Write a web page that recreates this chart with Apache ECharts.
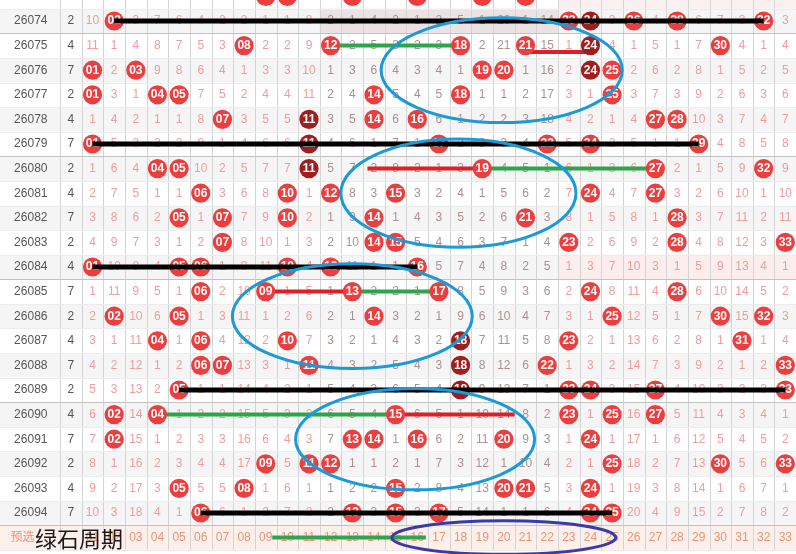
<!DOCTYPE html>
<html>
<head>
<meta charset="utf-8">
<script src="https://cdn.jsdelivr.net/npm/echarts@6/dist/echarts.min.js"></script>
<style>
html,body{margin:0;padding:0;background:#fff;}
#main{width:796px;height:554px;}
</style>
</head>
<body>
<div id="main"></div>
<script>
// 期号
var issues = ['26073','26074','26075','26076','26077','26078','26079','26080','26081','26082','26083',
	'26084','26085','26086','26087','26088','26089','26090','26091','26092','26093','26094'];
// 第二列
var tailNums = [7,2,4,7,2,4,7,2,4,7,2,4,7,2,4,7,2,4,7,2,4,7];
// 遗漏值, 0 = 开出
var omit = [
	[9,3,2,6,5,3,1,1,0,0,7,1,0,3,1,0,1,4,0,19,0,13,6,2,2,5,3,3,5,6,2,4,2],
	[10,0,3,7,6,4,2,2,1,1,8,2,1,4,2,1,2,5,1,20,1,14,0,0,3,0,4,0,6,7,3,0,3],
	[11,1,4,8,7,5,3,0,2,2,9,0,2,5,3,2,3,0,2,21,0,15,1,0,4,1,5,1,7,0,4,1,4],
	[0,2,0,9,8,6,4,1,3,3,10,1,3,6,4,3,4,1,0,0,1,16,2,0,0,2,6,2,8,1,5,2,5],
	[0,3,1,0,0,7,5,2,4,4,11,2,4,0,5,4,5,0,1,1,2,17,3,1,0,3,7,3,9,2,6,3,6],
	[1,4,2,1,1,8,0,3,5,5,0,3,5,0,6,0,6,1,2,2,3,18,4,2,1,4,0,0,10,3,7,4,7],
	[0,5,3,2,2,9,1,4,6,6,0,4,6,1,7,1,0,2,3,3,4,0,5,0,2,5,1,1,0,4,8,5,8],
	[1,6,4,0,0,10,2,5,7,7,0,5,7,2,8,2,1,3,0,4,5,1,6,1,3,6,0,2,1,5,9,0,9],
	[2,7,5,1,1,0,3,6,8,0,1,0,8,3,0,3,2,4,1,5,6,2,7,0,4,7,0,3,2,6,10,1,10],
	[3,8,6,2,0,1,0,7,9,0,2,1,9,0,1,4,3,5,2,6,0,3,8,1,5,8,1,0,3,7,11,2,11],
	[4,9,7,3,1,2,0,8,10,1,3,2,10,0,0,5,4,6,3,7,1,4,0,2,6,9,2,0,4,8,12,3,0],
	[0,10,8,4,0,0,1,9,11,0,4,0,11,1,1,0,5,7,4,8,2,5,1,3,7,10,3,1,5,9,13,4,1],
	[1,11,9,5,1,0,2,10,0,1,5,1,0,2,2,1,0,8,5,9,3,6,2,0,8,11,4,0,6,10,14,5,2],
	[2,0,10,6,0,1,3,11,1,2,6,2,1,0,3,2,1,9,6,10,4,7,3,1,0,12,5,1,7,0,15,0,3],
	[3,1,11,0,1,0,4,12,2,0,7,3,2,1,4,3,2,0,7,11,5,8,0,2,1,13,6,2,8,1,0,1,4],
	[4,2,12,1,2,0,0,13,3,1,0,4,3,2,5,4,3,0,8,12,6,0,1,3,2,14,7,3,9,2,1,2,0],
	[5,3,13,2,0,1,1,14,4,2,1,5,4,3,6,5,4,0,9,13,7,1,0,0,3,15,0,4,10,3,2,3,0],
	[6,0,14,0,1,2,2,15,5,3,2,6,5,4,0,6,5,1,10,14,8,2,0,1,0,16,0,5,11,4,3,4,1],
	[7,0,15,1,2,3,3,16,6,4,3,7,0,0,1,0,6,2,11,0,9,3,1,0,1,17,1,6,12,5,4,5,2],
	[8,1,16,2,3,4,4,17,0,5,0,0,1,1,2,1,7,3,12,1,10,4,2,1,0,18,2,7,13,0,5,6,0],
	[9,2,17,3,0,5,5,0,1,6,1,1,2,2,0,2,8,4,13,0,0,5,3,0,1,19,3,8,14,1,6,7,1],
	[10,3,18,4,1,0,6,1,2,7,2,2,0,3,0,3,0,5,14,1,1,6,4,0,0,20,4,9,15,2,7,8,2]
];
// 深色号码 [期号, 号码]
var darkHits = [['26074',24],['26075',24],['26076',24],['26078',11],['26079',11],['26080',11],
	['26087',18],['26088',18],['26089',18]];
// 预选行
var preNums = ['01','02','03','04','05','06','07','08','09','10','11','12','13','14','15','16','17',
	'18','19','20','21','22','23','24','25','26','27','28','29','30','31','32','33'];

// 标注线 [期号, 起号, 止号]
var blackLines = [['26074',2,32],['26079',1,29],['26084',1,16],['26089',5,33],['26094',6,25]];
var greenLines = [['26075',12,18],['26080',19,27],['26085',13,17],['26090',4,15],['预选',9.3,16.4]];
var redLines = [['26075',21,24],['26080',13.7,19],['26085',9,13],['26090',15,20.5]];
// 圈 [中心号, 中心期号, 横半径, 纵半径]
var blueRings = [[19.9,'26076',5.57,2.13],[17.9,'26081',5.43,2.2],[13.0,'26086',5.54,2.13],[15.9,'26091',5.52,2.06]];
var purpleRings = [[20.0,'预选',5.17,0.68]];

var X_MIN = -3.273, X_MAX = 33.494, Y_MIN = 0.146, Y_MAX = 22.667;
var ISSUE_X = -1.85, PRE_ROW = issues.length;

function rowOf(name) {
	return name === '预选' ? PRE_ROW : issues.indexOf(name);
}
function isDark(r, n) {
	for (var i = 0; i < darkHits.length; i++) {
		if (rowOf(darkHits[i][0]) === r && darkHits[i][1] === n) return true;
	}
	return false;
}

var omitData = [], ballData = [], issueData = [], bgData = [];
omit.forEach(function(vals, r) {
	vals.forEach(function(v, c) {
		if (v === 0) ballData.push([c + 1, r, c + 1, isDark(r, c + 1) ? 1 : 0]);
		else omitData.push([c + 1, r, v]);
	});
	issueData.push([ISSUE_X, r, issues[r], '#555']);
	issueData.push([0, r, String(tailNums[r]), '#555']);
	bgData.push([X_MIN, X_MAX, r, r % 2 === 1 ? '#f5f5f5' : '#ffffff']);
});
bgData.push([X_MIN, X_MAX, PRE_ROW, '#fdf0ea']);
bgData.push([11.5, 22.5, rowOf('26074'), '#ebe3e3']);
bgData.push([22.5, X_MAX, rowOf('26084'), '#fdeeee']);
bgData.push([22.5, X_MAX, rowOf('26073'), '#fbf0f0']);
preNums.forEach(function(s, i) {
	issueData.push([i + 1, PRE_ROW, s, '#e99478']);
});
issueData.push([-2.23, PRE_ROW, '预选', '#e99478']);

var vLines = [];
for (var k = -0.5; k <= 32.5; k += 1) vLines.push([k, 0]);
var hLines = [];
for (var r = 0; r <= PRE_ROW; r++) {
	hLines.push([r + 0.5, (r % 5 === 1) ? 1 : 0]);
}

var fontNum = '12px Arial, "Liberation Sans", sans-serif';

function textEl(p, txt, color, font) {
	return {
		type: 'text',
		style: {
			x: p[0], y: p[1], text: txt, fill: color, font: font,
			align: 'center', verticalAlign: 'middle',
			textAlign: 'center', textVerticalAlign: 'middle'
		}
	};
}

var series = [];
// 背景
series.push({
	type: 'custom', z: 1, silent: true, data: bgData,
	renderItem: function(params, api) {
		var d = bgData[params.dataIndex];
		var a = api.coord([d[0], d[2] - 0.5]), b = api.coord([d[1], d[2] + 0.5]);
		return {type: 'rect', shape: {x: a[0], y: a[1], width: b[0] - a[0], height: b[1] - a[1]}, style: {fill: d[3]}};
	}
});
// 网格线
series.push({
	type: 'custom', z: 2, silent: true, data: vLines,
	renderItem: function(params, api) {
		var a = api.coord([api.value(0), Y_MIN]), b = api.coord([api.value(0), PRE_ROW + 0.5]);
		var x = Math.round(a[0]) + 0.5;
		return {type: 'line', shape: {x1: x, y1: a[1], x2: x, y2: b[1]}, style: {stroke: '#d4d4d4', lineWidth: 1}};
	}
});
series.push({
	type: 'custom', z: 2, silent: true, data: hLines,
	renderItem: function(params, api) {
		var a = api.coord([X_MIN, api.value(0)]), b = api.coord([X_MAX, api.value(0)]);
		var y = Math.round(a[1]) + 0.5;
		var strong = api.value(1) === 1;
		return {type: 'line', shape: {x1: a[0], y1: y, x2: b[0], y2: y},
			style: {stroke: strong ? '#c2c2c2' : '#ececec', lineWidth: 1}};
	}
});
// 遗漏值
series.push({
	type: 'custom', z: 3, silent: true, data: omitData,
	renderItem: function(params, api) {
		var c = api.value(0);
		var p = api.coord([c, api.value(1)]);
		var color = (c >= 12 && c <= 22) ? '#ad9090' : '#f09c9c';
		return textEl(p, String(api.value(2)), color, fontNum);
	}
});
// 期号 / 预选
series.push({
	type: 'custom', z: 3, silent: true, data: issueData,
	renderItem: function(params, api) {
		var d = issueData[params.dataIndex];
		var p = api.coord([d[0], d[1]]);
		return textEl(p, d[2], d[3], '12px Arial, "Liberation Sans", "Noto Sans CJK SC", sans-serif');
	}
});
// 彩色线
function addLines(list, color, z, width) {
	list.forEach(function(l) {
		var r = rowOf(l[0]);
		if (l[0] === '26075' && color === '#dd1f27') r += 0.26;
		series.push({
			type: 'line', z: z, silent: true, symbol: 'none', animation: false,
			data: [[l[1], r], [l[2], r]],
			lineStyle: {color: color, width: width, cap: 'butt'}
		});
	});
}
addLines(greenLines, '#2ba64a', 4, 4);
addLines(redLines, '#dd1f27', 4, 4);
// 开奖号码
series.push({
	type: 'custom', z: 5, silent: true, data: ballData,
	renderItem: function(params, api) {
		var p = api.coord([api.value(0), api.value(1)]);
		var n = api.value(2);
		var txt = n < 10 ? '0' + n : String(n);
		return {
			type: 'group',
			children: [
				{type: 'circle', shape: {cx: p[0], cy: p[1], r: 9.6}, style: {fill: api.value(3) ? '#a11e1e' : '#ec3e3e'}},
				textEl(p, txt, '#ffffff', 'bold 12px Arial, "Liberation Sans", sans-serif')
			]
		};
	}
});
addLines(blackLines, '#000000', 6, 5);
// 圈
function addRings(list, color) {
	var data = list.map(function(e) { return [e[0], rowOf(e[1]), e[2], e[3]]; });
	series.push({
		type: 'custom', z: 7, silent: true, data: data,
		renderItem: function(params, api) {
			var c = api.coord([api.value(0), api.value(1)]);
			var s = api.size([api.value(2), api.value(3)]);
			return {type: 'ellipse', shape: {cx: c[0], cy: c[1], rx: s[0], ry: s[1]},
				style: {fill: 'none', stroke: color, lineWidth: 3}};
		}
	});
}
addRings(blueRings, '#1b9ad8');
addRings(purpleRings, '#3b3aa8');

var chart = echarts.init(document.getElementById('main'));
chart.setOption({
	animation: false,
	backgroundColor: '#ffffff',
	grid: {left: 0, right: 0, top: 0, bottom: 0},
	xAxis: {type: 'value', min: X_MIN, max: X_MAX, show: false},
	yAxis: {type: 'value', min: Y_MIN, max: Y_MAX, inverse: true, show: false},
	graphic: [{
		type: 'text', left: 35, top: 528, z: 100,
		style: {text: '绿石周期', fill: '#1a1a1a', font: '22px "Noto Sans CJK SC", sans-serif'}
	}],
	series: series
});
</script>
</body>
</html>
